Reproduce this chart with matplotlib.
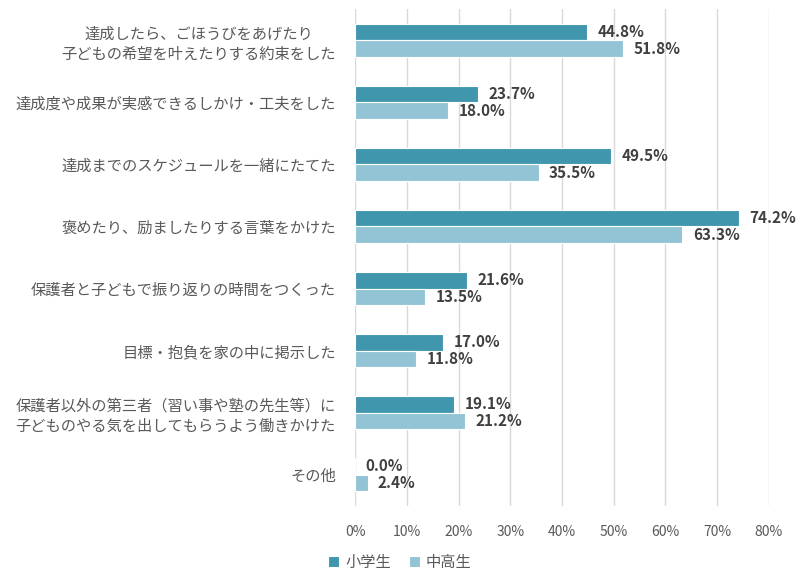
import numpy as np
import matplotlib.pyplot as plt

plt.rcParams['font.family'] = ['Noto Sans CJK JP', 'DejaVu Sans']

categories = [
    '達成したら、ごほうびをあげたり\n子どもの希望を叶えたりする約束をした',
    '達成度や成果が実感できるしかけ・工夫をした',
    '達成までのスケジュールを一緒にたてた',
    '褒めたり、励ましたりする言葉をかけた',
    '保護者と子どもで振り返りの時間をつくった',
    '目標・抱負を家の中に掲示した',
    '保護者以外の第三者（習い事や塾の先生等）に\n子どものやる気を出してもらうよう働きかけた',
    'その他',
]
elementary = [44.8, 23.7, 49.5, 74.2, 21.6, 17.0, 19.1, 0.0]
secondary = [51.8, 18.0, 35.5, 63.3, 13.5, 11.8, 21.2, 2.4]
series_names = ['小学生', '中高生']

dark = '#4097ad'
light = '#93c4d6'
text_gray = '#595959'
label_gray = '#404040'

fig = plt.figure(figsize=(8, 5.8), dpi=100)
ax = fig.add_axes([0.444, 0.128, 0.517, 0.856])

y = np.arange(len(categories))
h = 0.27
b1 = ax.barh(y - h / 2, elementary, height=h, color=dark, edgecolor='white', linewidth=0.8, label=series_names[0])
b2 = ax.barh(y + h / 2, secondary, height=h, color=light, edgecolor='white', linewidth=0.8, label=series_names[1])

for bars, vals in [(b1, elementary), (b2, secondary)]:
    for bar, v in zip(bars, vals):
        ax.text(v + 2.0, bar.get_y() + bar.get_height() / 2, f'{v:.1f}%',
                va='center', ha='left', fontsize=11, fontweight='bold', color=label_gray)

ax.set_xlim(0, 80)
ax.set_ylim(len(categories) - 0.5, -0.5)
ax.set_xticks(np.arange(0, 81, 10))
ax.set_xticklabels([f'{t}%' for t in range(0, 81, 10)], color=text_gray, fontsize=10)
ax.set_yticks(y)
ax.set_yticklabels(categories, color=text_gray, fontsize=11, multialignment='center',
                   linespacing=1.25)
ax.tick_params(axis='both', length=0)
ax.tick_params(axis='x', pad=14)
ax.tick_params(axis='y', pad=14)
ax.grid(axis='x', color='#d9d9d9', linewidth=1)
ax.set_axisbelow(True)
for s in ax.spines.values():
    s.set_visible(False)

fig.legend(handles=[b1, b2], loc='center', bbox_to_anchor=(0.5, 0.03), ncol=2,
           frameon=False, fontsize=11, labelcolor=text_gray,
           handlelength=0.7, handleheight=0.7, handletextpad=0.4, columnspacing=1.2)

fig.savefig('out.png', dpi=100)
